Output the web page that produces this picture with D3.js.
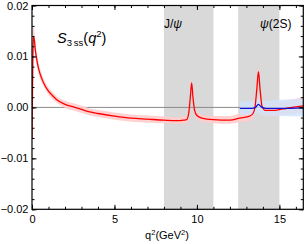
<!DOCTYPE html>
<html>
<head>
<meta charset="utf-8">
<script src="https://cdn.jsdelivr.net/npm/d3@7"></script>
<style>
  body { margin: 0; background: #fff; }
  svg text { font-family: "Liberation Sans", Arial, sans-serif; }
</style>
</head>
<body>
<script>
// red curve (central value) and its band
var q2 = [0.00, 0.04, 0.08, 0.12, 0.20, 0.30, 0.40, 0.60, 0.80, 1.00, 1.25, 1.50, 2.00, 2.60, 3.00, 3.50, 4.00, 5.00, 6.00, 7.00, 8.00, 8.80, 9.20, 9.38, 9.50, 9.60, 9.68, 9.76, 9.86, 10.0, 10.3, 11.0, 12.0, 12.6, 13.2, 13.40, 13.52, 13.63, 13.73, 13.83, 13.95, 14.15, 14.60, 15.20, 16.00, 16.45];
var s3 = [-0.0060, 0.0060, 0.0138, 0.0138, 0.0113, 0.0092, 0.0076, 0.0056, 0.0042, 0.0032, 0.0023, 0.0015, 0.0006, 0.0000, -0.0004, -0.0009, -0.0012, -0.0017, -0.0021, -0.0023, -0.0025, -0.0026, -0.0025, -0.0024, -0.0012, 0.0020, 0.0048, 0.0020, -0.0006, -0.0016, -0.0021, -0.0024, -0.0025, -0.0021, -0.0017, -0.0012, 0.0000, 0.0035, 0.0070, 0.0035, 0.0002, -0.0006, -0.0006, -0.0003, 0.0001, 0.0003];
var s3Lo = [-0.0080, 0.0045, 0.0120, 0.0120, 0.0098, 0.0080, 0.0066, 0.0048, 0.0035, 0.0025, 0.0016, 0.0009, -0.0001, -0.0007, -0.0011, -0.0016, -0.0019, -0.0024, -0.0028, -0.0030, -0.0031, -0.0032, -0.0032, -0.0031, -0.0020, 0.0011, 0.0040, 0.0011, -0.0014, -0.0023, -0.0028, -0.0031, -0.0032, -0.0029, -0.0027, -0.0022, -0.0010, 0.0024, 0.0060, 0.0024, -0.0009, -0.0017, -0.0017, -0.0015, -0.0012, -0.0011];
var s3Hi = [-0.0040, 0.0080, 0.0160, 0.0158, 0.0128, 0.0105, 0.0087, 0.0065, 0.0050, 0.0039, 0.0030, 0.0022, 0.0013, 0.0007, 0.0003, -0.0002, -0.0005, -0.0010, -0.0014, -0.0016, -0.0018, -0.0019, -0.0017, -0.0016, -0.0004, 0.0029, 0.0056, 0.0029, 0.0002, -0.0009, -0.0014, -0.0017, -0.0017, -0.0012, -0.0007, -0.0002, 0.0010, 0.0046, 0.0080, 0.0046, 0.0013, 0.0006, 0.0008, 0.0012, 0.0017, 0.0020];

// blue curve (high q2 region) and its band
var q2Hi = [12.6, 13.3, 13.55, 13.73, 13.9, 14.2, 15.0, 16.45];
var s3b = [-0.0002, -0.0002, 0.0000, 0.0006, 0.0001, -0.0002, -0.0002, -0.0001];
var s3bLo = [-0.0015, -0.0015, -0.0014, -0.0010, -0.0015, -0.0016, -0.0017, -0.0018];
var s3bHi = [0.0011, 0.0012, 0.0013, 0.0017, 0.0013, 0.0013, 0.0015, 0.0017];

// charmonium veto bands
var vetoFrom = [8, 12.5];
var vetoTo = [11, 15];
var vetoLabel = ["J/\u03c8", "\u03c8(2S)"];

var xTicks = [0, 5, 10, 15];
var yTicks = [-0.02, -0.01, 0.00, 0.01, 0.02];
var yTickLabels = ["\u22120.02", "\u22120.01", "0.00", "0.01", "0.02"];

var W = 305, H = 244;
var L = 32, T = 5.5, R = 303.3, B = 209.3;

var x = d3.scaleLinear().domain([0, 16.45]).range([L, R]);
var y = d3.scaleLinear().domain([-0.02, 0.02]).range([B, T]);

var svg = d3.select('body').append('svg')
    .attr('width', W)
    .attr('height', H);

svg.append('clipPath').attr('id', 'plot')
  .append('rect')
    .attr('x', L).attr('y', T)
    .attr('width', R - L).attr('height', B - T);

var plot = svg.append('g').attr('clip-path', 'url(#plot)');

// gray bands
plot.selectAll('rect.veto')
    .data(vetoFrom)
    .enter()
    .append('rect')
    .attr('class', 'veto')
    .attr('x', function(d){ return x(d); })
    .attr('y', T)
    .attr('width', function(d, i){ return x(vetoTo[i]) - x(d); })
    .attr('height', B - T)
    .attr('fill', '#d9d9d9');

// zero line
plot.append('line')
    .attr('x1', L).attr('x2', R)
    .attr('y1', y(0)).attr('y2', y(0))
    .attr('stroke', '#8a8a8a')
    .attr('stroke-width', 1);

var red = q2.map(function(d, i){ return {q: d, v: s3[i], lo: s3Lo[i], hi: s3Hi[i]}; });
var blue = q2Hi.map(function(d, i){ return {q: d, v: s3b[i], lo: s3bLo[i], hi: s3bHi[i]}; });

var area = d3.area()
    .x(function(d){ return x(d.q); })
    .y0(function(d){ return y(d.lo); })
    .y1(function(d){ return y(d.hi); })
    .curve(d3.curveMonotoneX);

var line = d3.line()
    .x(function(d){ return x(d.q); })
    .y(function(d){ return y(d.v); })
    .curve(d3.curveMonotoneX);

plot.append('path').datum(red)
    .attr('d', area)
    .attr('fill', '#ffcccc')
    .attr('fill-opacity', 0.9);

plot.append('path').datum(blue)
    .attr('d', area)
    .attr('fill', '#cfe3fb')
    .attr('fill-opacity', 0.8);

plot.append('path').datum(red)
    .attr('d', line)
    .attr('fill', 'none')
    .attr('stroke', '#ff0000')
    .attr('stroke-width', 1.3);

plot.append('path').datum(blue)
    .attr('d', line)
    .attr('fill', 'none')
    .attr('stroke', '#1010cc')
    .attr('stroke-width', 1.3);

// frame ticks (inward)
var xMinor = d3.range(0, 17, 1);
var yMinor = d3.range(-0.02, 0.0201, 0.002);

function frameAxis(axisFn, scale, pos, values, size, labels) {
    var ax = axisFn(scale).tickValues(values).tickSizeInner(-size).tickSizeOuter(0);
    if (labels) {
        ax.tickFormat(labels).tickPadding(4);
    } else {
        ax.tickFormat('');
    }
    var g = svg.append('g').attr('transform', pos).call(ax);
    g.select('.domain').remove();
    g.selectAll('line').attr('stroke', '#000').attr('stroke-width', 1);
    return g;
}

frameAxis(d3.axisBottom, x, 'translate(0,' + B + ')', xMinor, 2.5);
frameAxis(d3.axisTop, x, 'translate(0,' + T + ')', xMinor, 2.5);
frameAxis(d3.axisLeft, y, 'translate(' + L + ',0)', yMinor, 2.5);
frameAxis(d3.axisRight, y, 'translate(' + R + ',0)', yMinor, 2.5);

var gx = frameAxis(d3.axisBottom, x, 'translate(0,' + B + ')', xTicks, 4.5, function(d){ return d; });
frameAxis(d3.axisTop, x, 'translate(0,' + T + ')', xTicks, 4.5);
var gy = frameAxis(d3.axisLeft, y, 'translate(' + L + ',0)', yTicks, 4.5, function(d, i){ return yTickLabels[i]; });
frameAxis(d3.axisRight, y, 'translate(' + R + ',0)', yTicks, 4.5);

gx.selectAll('text').attr('font-size', 11).attr('fill', '#000').attr('y', 5.5);
gy.selectAll('text').attr('font-size', 11).attr('fill', '#000').attr('x', -3.5);

svg.append('rect')
    .attr('x', L).attr('y', T)
    .attr('width', R - L).attr('height', B - T)
    .attr('fill', 'none')
    .attr('stroke', '#000')
    .attr('stroke-width', 1.2);

// veto labels
svg.selectAll('text.veto')
    .data(vetoLabel)
    .enter()
    .append('text')
    .attr('class', 'veto')
    .attr('x', function(d, i){ return i == 0 ? 164 : 260; })
    .attr('y', 28)
    .attr('font-size', 12)
    .attr('fill', '#000')
    .each(function(d, i){
        var t = d3.select(this);
        if (i == 0) {
            t.append('tspan').text('J/');
            t.append('tspan').attr('font-style', 'italic').text('\u03c8');
        } else {
            t.append('tspan').attr('font-style', 'italic').text('\u03c8');
            t.append('tspan').text('(2S)');
        }
    });

// curve label S_3ss(q^2)
var lab = svg.append('text')
    .attr('x', 57)
    .attr('y', 43)
    .attr('font-size', 14.5)
    .attr('fill', '#000');
lab.append('tspan').attr('font-style', 'italic').text('S');
lab.append('tspan').attr('font-size', 9.5).attr('dy', 3).text('3\u2009ss');
lab.append('tspan').attr('dy', -3).text('(');
lab.append('tspan').attr('font-style', 'italic').text('q');
lab.append('tspan').attr('font-size', 9.5).attr('dy', -6).text('2');
lab.append('tspan').attr('dy', 6).text(')');

// x axis title
var xt = svg.append('text')
    .attr('x', 167)
    .attr('y', 238.5)
    .attr('text-anchor', 'middle')
    .attr('font-size', 11)
    .attr('fill', '#000');
xt.append('tspan').text('q');
xt.append('tspan').attr('font-size', 7.5).attr('dy', -4).text('2');
xt.append('tspan').attr('dy', 4).text('(GeV');
xt.append('tspan').attr('font-size', 7.5).attr('dy', -4).text('2');
xt.append('tspan').attr('dy', 4).text(')');
</script>
</body>
</html>
